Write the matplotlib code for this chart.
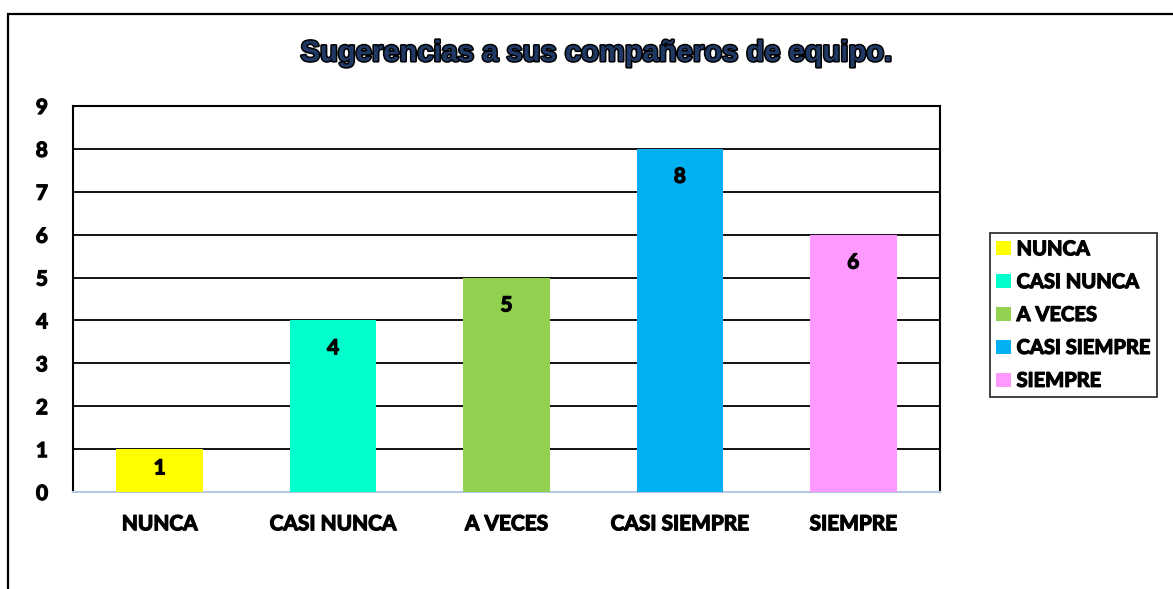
import matplotlib.pyplot as plt
import matplotlib.patheffects as pe
from matplotlib.patches import Rectangle

categorias = ['NUNCA', 'CASI NUNCA', 'A VECES', 'CASI SIEMPRE', 'SIEMPRE']
valores = [1, 4, 5, 8, 6]
colores = ['#FFFF00', '#00FFCC', '#92D050', '#00B0F0', '#FF99FF']
titulo = 'Sugerencias a sus compañeros de equipo.'

plt.rcParams['font.family'] = ['Lato', 'DejaVu Sans']
plt.rcParams['font.weight'] = 'bold'

# trazo fino para engrosar el texto (parecido a Calibri negrita)
grueso = [pe.withStroke(linewidth=0.9, foreground='black')]

fig = plt.figure(figsize=(11.73, 5.89), dpi=100)
ax = fig.add_axes([73 / 1173, 1 - 492 / 589, 867 / 1173, 386 / 589])

# marco exterior del grafico
fig.patches.append(Rectangle((8 / 1173, -0.1), 1.2, 1.1 - 14 / 589, transform=fig.transFigure,
                             fill=False, edgecolor='black', linewidth=1.6))

x = list(range(len(categorias)))
barras = ax.bar(x, valores, width=0.5, color=colores, zorder=3)

# etiquetas dentro de la barra, cerca del extremo
for xi, v in zip(x, valores):
    y_txt = max(v - 0.65, v * 0.5 + 0.05)
    ax.text(xi, y_txt, str(v), ha='center', va='center', fontsize=15, fontweight='bold',
            zorder=4, path_effects=grueso)

ax.set_xlim(-0.5, 4.5)
ax.set_ylim(0, 9)
ax.set_yticks(range(0, 10))
ax.set_xticks(x)
ax.set_xticklabels(categorias)
ax.tick_params(axis='both', length=0, labelsize=15)
ax.tick_params(axis='y', pad=18)
ax.tick_params(axis='x', pad=16)
for t in ax.get_xticklabels() + ax.get_yticklabels():
    t.set_path_effects(grueso)
ax.grid(axis='y', color='black', linewidth=1.3, zorder=1)
for lado in ['top', 'right', 'left']:
    ax.spines[lado].set_color('black')
    ax.spines[lado].set_linewidth(1.5)
ax.spines['bottom'].set_color('#B4C7E7')
ax.spines['bottom'].set_linewidth(1.5)

fig.text(596 / 1173, 1 - 53 / 589, titulo, ha='center', va='center', fontsize=21,
         fontweight='bold', family='Liberation Sans', color='#1F3864',
         path_effects=[pe.withSimplePatchShadow(offset=(1, -1), shadow_rgbFace='#888888'),
                       pe.withStroke(linewidth=2.2, foreground='black')])

leg = ax.legend(barras, categorias, loc='center left', bbox_to_anchor=(990 / 1173, 1 - 315 / 589),
                bbox_transform=fig.transFigure, frameon=True, fancybox=False, fontsize=14.5,
                handlelength=0.7, handleheight=0.7, handletextpad=0.3, labelspacing=0.64,
                borderpad=0.32, borderaxespad=0)
leg.get_frame().set_edgecolor('black')
leg.get_frame().set_linewidth(1.3)
for t in leg.get_texts():
    t.set_path_effects(grueso)

fig.savefig('out.png', dpi=100)
